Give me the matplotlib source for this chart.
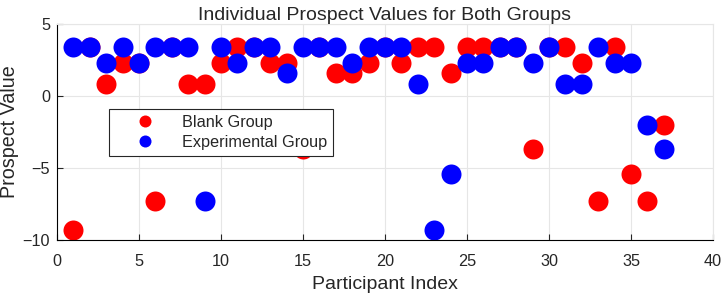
import numpy as np
import matplotlib.pyplot as plt

plt.rcParams['font.family'] = ['Liberation Sans', 'DejaVu Sans']

# participant index 1..37
participants = list(range(1, 38))

blank_group = [-9.3, 3.4, 0.85, 2.3, 2.3, -7.3, 3.4, 0.85, 0.85, 2.3,
               3.4, 3.4, 2.3, 2.3, -3.7, 3.4, 1.6, 1.6, 2.3, 3.4,
               2.3, 3.4, 3.4, 1.6, 3.4, 3.4, 3.4, 3.4, -3.7, 3.4,
               3.4, 2.3, -7.3, 3.4, -5.45, -7.3, -2.0]

experimental_group = [3.4, 3.4, 2.3, 3.4, 2.3, 3.4, 3.4, 3.4, -7.3, 3.4,
                      2.3, 3.4, 3.4, 1.6, 3.4, 3.4, 3.4, 2.3, 3.4, 3.4,
                      3.4, 0.85, -9.3, -5.45, 2.3, 2.3, 3.4, 3.4, 2.3, 3.4,
                      0.85, 0.85, 3.4, 2.3, 2.3, -2.0, -3.7]

fig = plt.figure(figsize=(7.26, 2.98), dpi=100)
ax = fig.add_axes([0.0785, 0.195, 0.9035, 0.724])

ax.plot(participants, blank_group, 'o', color='red', markersize=14.4,
        markeredgewidth=0, label='Blank Group')
ax.plot(participants, experimental_group, 'o', color='blue', markersize=14.4,
        markeredgewidth=0, label='Experimental Group')

ax.set_xlim(0, 40)
ax.set_ylim(-10, 5)
ax.set_xticks(range(0, 41, 5))
ax.set_yticks([-10, -5, 0, 5])
ax.grid(True, color='#e6e6e6', linewidth=0.8)
ax.set_axisbelow(True)
for s in ['top', 'right']:
    ax.spines[s].set_color('#e6e6e6')
ax.tick_params(direction='in', labelsize=11.7, length=4, top=False, right=False,
               colors='#262626', labelcolor='#262626')
ax.tick_params(axis='x', pad=10)
ax.tick_params(axis='y', pad=5)
ax.set_xlabel('Participant Index', fontsize=14, labelpad=5, color='#262626')
ax.set_ylabel('Prospect Value', fontsize=14.2, color='#262626')
ax.yaxis.set_label_coords(-0.058, 0.5)
ax.set_title('Individual Prospect Values for Both Groups', fontsize=14, pad=2.5,
             color='#262626')

leg = ax.legend(loc='upper left', bbox_to_anchor=(0.0793, 0.605), fontsize=11.7,
                markerscale=0.6, fancybox=False, edgecolor='#262626',
                framealpha=1, borderpad=0.35, handletextpad=0.4, borderaxespad=0,
                labelspacing=0.3, handlelength=3.74)
leg.get_frame().set_linewidth(0.8)
for t in leg.get_texts():
    t.set_color('#262626')

fig.savefig('out.png', dpi=100)
